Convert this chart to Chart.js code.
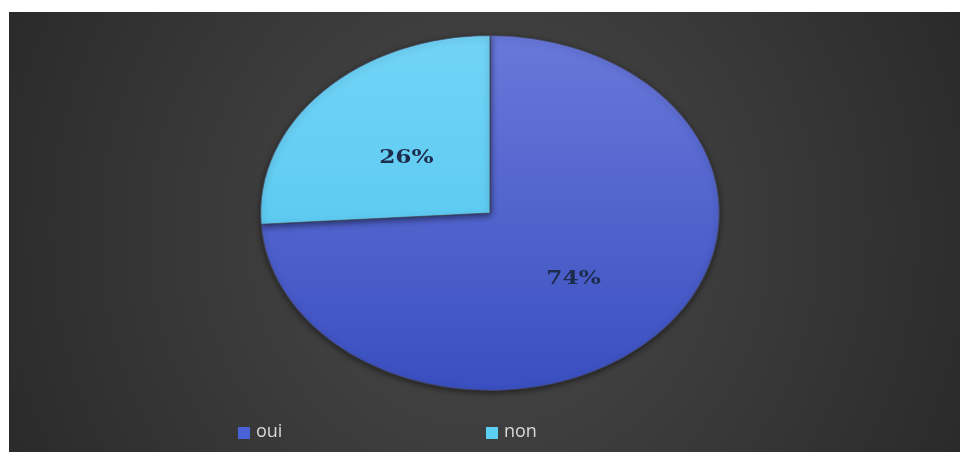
<!DOCTYPE html>
<html>
<head>
<meta charset="utf-8">
<script src="https://cdn.jsdelivr.net/npm/chart.js@4"></script>
<style>
  html, body { margin: 0; padding: 0; background: #fff; }
  #wrap {
    position: absolute;
    left: 9px;
    top: 12px;
    width: 951px;
    height: 440px;
    background: radial-gradient(ellipse 62% 140% at 50% 50%, #4a4a4a 0%, #3a3a3a 45%, #262626 100%);
  }
</style>
</head>
<body>
<div id="wrap"><canvas id="pieChart" width="951" height="440"></canvas></div>
<script>
// --- data ---
const categories = ["oui", "non"];
const values = [74, 26];
const topColors = ["#6878da", "#72d4f7"];
const bottomColors = ["#3a4fc0", "#4cc2ec"];
const legendColors = ["#4a62d8", "#5ccff5"];

// horizontal stretch of the pie (the original is an ellipse)
const STRETCH = 1.292;

function sliceGradient(context) {
  const chart = context.chart;
  const area = chart.chartArea;
  if (!area) return topColors[context.dataIndex];
  const g = chart.ctx.createLinearGradient(0, area.top, 0, area.bottom);
  g.addColorStop(0, topColors[context.dataIndex]);
  g.addColorStop(1, bottomColors[context.dataIndex]);
  return g;
}

function applyStretch(chart) {
  const ctx = chart.ctx;
  const cx = (chart.chartArea.left + chart.chartArea.right) / 2;
  ctx.translate(cx, 0);
  ctx.scale(STRETCH, 1);
  ctx.translate(-cx, 0);
}

const stretchPlugin = {
  id: "stretch",
  beforeDatasetsDraw(chart) {
    const ctx = chart.ctx;
    ctx.save();
    applyStretch(chart);
    ctx.shadowColor = "rgba(0, 0, 0, 0.5)";
    ctx.shadowBlur = 6;
    ctx.shadowOffsetY = 2;
  },
  afterDatasetsDraw(chart) {
    const ctx = chart.ctx;
    ctx.restore();

    // percentage labels inside slices
    const meta = chart.getDatasetMeta(0);
    ctx.save();
    applyStretch(chart);
    ctx.font = "bold 18px 'DejaVu Serif', serif";
    ctx.fillStyle = "#1d2c4c";
    ctx.textAlign = "center";
    ctx.textBaseline = "middle";
    meta.data.forEach((arc, i) => {
      const p = arc.tooltipPosition();
      ctx.fillText(values[i] + "%", p.x, p.y + 6);
    });
    ctx.restore();
  },
};

// legend drawn at the bottom, spread like the original
const bottomLegend = {
  id: "bottomLegend",
  afterDraw(chart) {
    const ctx = chart.ctx;
    const cx = (chart.chartArea.left + chart.chartArea.right) / 2;
    const y = 420;
    const slot = 248;
    ctx.save();
    ctx.font = "18px 'Open Sans', sans-serif";
    ctx.textBaseline = "middle";
    ctx.textAlign = "left";
    categories.forEach((label, i) => {
      const x = cx - 252 + i * slot;
      ctx.fillStyle = legendColors[i];
      ctx.fillRect(x, y - 5, 12, 12);
      ctx.fillStyle = "#d9d9d9";
      ctx.fillText(label, x + 18, y);
    });
    ctx.restore();
  },
};

const chart = new Chart(document.getElementById("pieChart"), {
  type: "pie",
  data: {
    labels: categories,
    datasets: [
      {
        data: values,
        backgroundColor: sliceGradient,
        borderColor: "rgba(70, 70, 90, 0.7)",
        borderWidth: 1,
      },
    ],
  },
  options: {
    responsive: false,
    animation: false,
    layout: {
      padding: { top: 23, bottom: 61, left: 40, right: 29 },
    },
    plugins: {
      legend: { display: false },
      tooltip: { enabled: false },
    },
  },
  plugins: [stretchPlugin, bottomLegend],
});
</script>
</body>
</html>
